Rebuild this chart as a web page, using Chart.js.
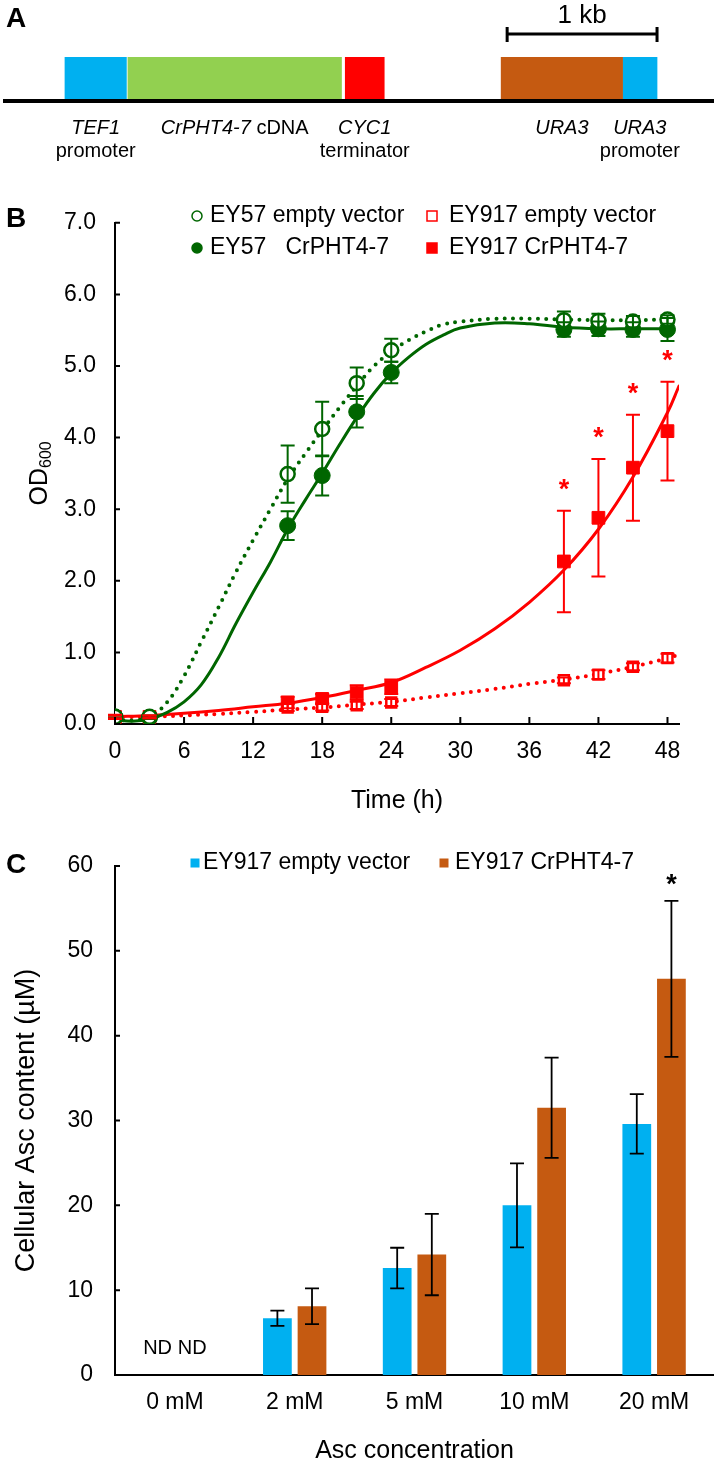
<!DOCTYPE html>
<html>
<head>
<meta charset="utf-8">
<script src="https://cdn.jsdelivr.net/npm/chart.js"></script>
<style>
  html, body { margin: 0; padding: 0; background: #fff; }
  body { width: 714px; height: 1468px; position: relative; overflow: hidden; font-family: "Liberation Sans", Arial, sans-serif; }
  canvas { position: absolute; left: 0; }
  .tag { position: absolute; left: 6px; font-weight: bold; font-size: 28px; line-height: 32px; }
</style>
</head>
<body>
<canvas id="geneMap" width="714" height="175" style="top:0"></canvas>
<canvas id="growth" width="714" height="640" style="top:190px"></canvas>
<canvas id="ascBars" width="714" height="638" style="top:830px"></canvas>
<div class="tag" style="top:2px">A</div>
<div class="tag" style="top:202px">B</div>
<div class="tag" style="top:848px">C</div>
<script>
const fam = '"Liberation Sans", Arial, sans-serif'
Chart.defaults.font.family = fam
Chart.defaults.color = "#000"

// ---- panel A: construct map (bp) ----
const mapParts = ["TEF1 promoter", "CrPHT4-7 cDNA", "CYC1 terminator", "URA3", "URA3 promoter"]
const mapStart = [400, 820, 2270, 3310, 4120]
const mapEnd = [810, 2245, 2530, 4120, 4350]
const mapColors = ["#00B0F0", "#92D050", "#FF0000", "#C55A11", "#00B0F0"]
const mapLine1 = [["TEF1", ""], ["CrPHT4-7", " cDNA"], ["CYC1", ""], ["URA3", ""], ["URA3", ""]]
const mapLine2 = ["promoter", "", "terminator", "", "promoter"]
const mapLength = 4730
const scaleBarBp = [3350, 4350]
const scaleBarLabel = "1 kb"

// ---- panel B: growth (OD600) ----
const timeB = [0, 3, 15, 18, 21, 24, 39, 42, 45, 48]
const ey57Empty = [0.10, 0.10, 3.49, 4.12, 4.76, 5.22, 5.64, 5.63, 5.62, 5.65]
const ey57EmptySd = [0.02, 0.02, 0.40, 0.38, 0.22, 0.16, 0.12, 0.10, 0.08, 0.06]
const ey57Pht = [0.10, 0.09, 2.77, 3.47, 4.36, 4.91, 5.51, 5.52, 5.51, 5.51]
const ey57PhtSd = [0.02, 0.02, 0.20, 0.28, 0.22, 0.15, 0.10, 0.10, 0.10, 0.16]
const ey917Empty = [0.10, 0.10, 0.23, 0.24, 0.26, 0.30, 0.61, 0.69, 0.80, 0.92]
const ey917EmptySd = [0.02, 0.02, 0.05, 0.05, 0.05, 0.05, 0.04, 0.06, 0.05, 0.06]
const ey917Pht = [0.10, 0.10, 0.30, 0.35, 0.44, 0.52, 2.27, 2.88, 3.58, 4.09]
const ey917PhtSd = [0.03, 0.02, 0.08, 0.07, 0.10, 0.10, 0.71, 0.82, 0.74, 0.69]
const sigTimesB = [39, 42, 45, 48]

// trend lines
const fitTimeGreen = [0, 1.5, 3, 4.5, 6, 7.5, 9, 10.5, 12, 13.5, 15, 16.5, 18, 19.5, 21, 22.5, 24, 25.5, 27, 28.5, 30, 33, 36, 39, 42, 45, 48]
const fit57Empty = [0.06, 0.05, 0.10, 0.30, 0.67, 1.15, 1.63, 2.12, 2.57, 3.00, 3.42, 3.77, 4.10, 4.42, 4.72, 5.00, 5.20, 5.36, 5.48, 5.58, 5.62, 5.66, 5.66, 5.65, 5.64, 5.64, 5.65]
const fit57Pht = [0.06, 0.04, 0.07, 0.16, 0.31, 0.55, 0.93, 1.40, 1.84, 2.26, 2.72, 3.12, 3.50, 3.90, 4.28, 4.62, 4.90, 5.12, 5.30, 5.43, 5.53, 5.60, 5.59, 5.54, 5.52, 5.52, 5.52]
const fitTimeRed = [0, 3, 6, 9, 12, 15, 18, 21, 24, 27, 30, 33, 36, 39, 42, 45, 48, 49]
const fit917Empty = [0.10, 0.10, 0.12, 0.14, 0.17, 0.20, 0.23, 0.27, 0.31, 0.37, 0.43, 0.49, 0.56, 0.62, 0.70, 0.80, 0.92, 0.97]
const fit917Pht = [0.10, 0.12, 0.15, 0.19, 0.24, 0.29, 0.37, 0.47, 0.58, 0.79, 1.03, 1.33, 1.70, 2.15, 2.72, 3.45, 4.35, 4.72]

// ---- panel C: cellular Asc ----
const ascCats = ["0 mM", "2 mM", "5 mM", "10 mM", "20 mM"]
const ascEmpty = [null, 6.7, 12.6, 20.0, 29.6]
const ascEmptySd = [null, 0.9, 2.4, 4.95, 3.5]
const ascPht = [null, 8.1, 14.2, 31.5, 46.7]
const ascPhtSd = [null, 2.1, 4.8, 5.9, 9.2]
const sigCatsC = ["20 mM"]

const green = "#006600"
const red = "#FF0000"
const blue = "#00B0F0"
const brown = "#C55A11"

function drawMixed(ctx, parts, cx, y) {
    ctx.font = "italic 20px " + fam
    const w1 = ctx.measureText(parts[0]).width
    ctx.font = "20px " + fam
    const w2 = ctx.measureText(parts[1]).width
    const sx = cx - (w1 + w2) / 2
    ctx.textAlign = "left"
    ctx.font = "italic 20px " + fam
    ctx.fillText(parts[0], sx, y)
    ctx.font = "20px " + fam
    ctx.fillText(parts[1], sx + w1, y)
}

const mapLabels = {
    id: "mapLabels",
    afterDraw(chart) {
        const ctx = chart.ctx
        const x = chart.scales.x
        ctx.save()
        ctx.fillStyle = "#000"
        ctx.strokeStyle = "#000"
        ctx.textBaseline = "middle"
        const x0 = x.getPixelForValue(scaleBarBp[0])
        const x1 = x.getPixelForValue(scaleBarBp[1])
        ctx.lineWidth = 3
        ctx.beginPath()
        ctx.moveTo(x0, 34); ctx.lineTo(x1, 34)
        ctx.moveTo(x0, 27); ctx.lineTo(x0, 42)
        ctx.moveTo(x1, 27); ctx.lineTo(x1, 42)
        ctx.stroke()
        ctx.font = "26px " + fam
        ctx.textAlign = "center"
        ctx.fillText(scaleBarLabel, (x0 + x1) / 2, 16)
        mapParts.forEach((p, i) => {
            const cx = x.getPixelForValue((mapStart[i] + mapEnd[i]) / 2)
            drawMixed(ctx, mapLine1[i], cx, 128)
            if (mapLine2[i]) {
                ctx.font = "20px " + fam
                ctx.textAlign = "center"
                ctx.fillText(mapLine2[i], cx, 151)
            }
        })
        ctx.restore()
    }
}

new Chart(document.getElementById("geneMap"), {
    type: "bar",
    data: {
        labels: ["construct"],
        datasets: mapParts.map((name, i) => ({
            label: name,
            data: [[mapStart[i], mapEnd[i]]],
            backgroundColor: mapColors[i],
            borderWidth: 0,
            grouped: false,
            categoryPercentage: 1,
            barPercentage: 1
        }))
    },
    options: {
        indexAxis: "y",
        responsive: false,
        animation: false,
        devicePixelRatio: 1,
        layout: { padding: { left: 5, top: 57, right: 0, bottom: 0 } },
        plugins: { legend: { display: false }, tooltip: { enabled: false } },
        scales: {
            x: {
                type: "linear", min: 0, max: mapLength,
                grid: { display: false, drawTicks: false },
                ticks: { display: false },
                border: { display: true, color: "#000", width: 4, z: 1 },
                afterFit(s) { s.height = 175 - 101 }
            },
            y: { display: false }
        }
    },
    plugins: [mapLabels]
})

// error bars + significance + ND labels, shared by B and C
const errorBars = {
    id: "errorBars",
    afterDatasetsDraw(chart, args, opts) {
        const ctx = chart.ctx
        const y = chart.scales.y
        chart.data.datasets.forEach((ds, di) => {
            if (!ds.sd) return
            const meta = chart.getDatasetMeta(di)
            ctx.save()
            ctx.strokeStyle = ds.errColor
            ctx.fillStyle = ds.errColor
            ctx.lineWidth = opts.width
            ds.data.forEach((d, i) => {
                const el = meta.data[i]
                const v = (d !== null && typeof d === "object") ? d.y : d
                const px = el.x
                if (v === null || v === undefined) {
                    if (ds.ndText) {
                        ctx.font = "20px " + fam
                        ctx.textAlign = "center"
                        ctx.textBaseline = "middle"
                        ctx.fillText(ds.ndText, px, y.getPixelForValue(0) - 27)
                    }
                    return
                }
                const s = ds.sd[i]
                const top = y.getPixelForValue(v + s)
                const bot = y.getPixelForValue(v - s)
                ctx.beginPath()
                ctx.moveTo(px, top); ctx.lineTo(px, bot)
                ctx.moveTo(px - opts.cap, top); ctx.lineTo(px + opts.cap, top)
                ctx.moveTo(px - opts.cap, bot); ctx.lineTo(px + opts.cap, bot)
                ctx.stroke()
                if (ds.sig && ds.sig[i]) {
                    ctx.font = "bold 27px " + fam
                    ctx.textAlign = "center"
                    ctx.textBaseline = "alphabetic"
                    ctx.fillText("*", px, top - opts.starGap)
                }
            })
            ctx.restore()
        })
    }
}

const innerTicks = {
    id: "innerTicks",
    afterDraw(chart, args, opts) {
        const ctx = chart.ctx
        const a = chart.chartArea
        ctx.save()
        ctx.strokeStyle = "#000"
        ctx.lineWidth = 2
        ctx.beginPath()
        if (opts.y) chart.scales.y.ticks.forEach(t => {
            const p = chart.scales.y.getPixelForValue(t.value)
            ctx.moveTo(a.left, p); ctx.lineTo(a.left + opts.y, p)
        })
        if (opts.x) chart.scales.x.ticks.forEach(t => {
            const p = chart.scales.x.getPixelForValue(t.value)
            ctx.moveTo(p, a.bottom); ctx.lineTo(p, a.bottom - opts.x)
        })
        ctx.stroke()
        ctx.restore()
    }
}

function marker(ctx, style, filled, color, x, y, r) {
    ctx.save()
    ctx.strokeStyle = color
    ctx.fillStyle = filled ? color : "#fff"
    ctx.lineWidth = 1.5
    ctx.beginPath()
    if (style === "circle") ctx.arc(x, y, r, 0, Math.PI * 2)
    else ctx.rect(x - r, y - r, r * 2, r * 2)
    ctx.fill()
    ctx.stroke()
    ctx.restore()
}

// legend positions: [marker x, text x, y] in canvas pixels
const growthLegend = {
    id: "growthLegend",
    afterDraw(chart) {
        const ctx = chart.ctx
        const slots = [[197, 210, 26], [197, 210, 58], [432, 449, 26], [432, 449, 58]]
        chart.data.datasets.filter(d => d.inLegend).forEach((ds, k) => {
            const [mx, tx, ty] = slots[k]
            marker(ctx, ds.pointStyle, ds.pointBackgroundColor !== "#fff", ds.pointBorderColor, mx, ty, 5)
            ctx.save()
            ctx.fillStyle = "#000"
            ctx.font = "23px " + fam
            ctx.textAlign = "left"
            ctx.textBaseline = "middle"
            ctx.fillText(ds.label, tx, ty)
            ctx.restore()
        })
        // OD600 axis title with subscript
        ctx.save()
        ctx.translate(40, (chart.chartArea.top + chart.chartArea.bottom) / 2)
        ctx.rotate(-Math.PI / 2)
        ctx.fillStyle = "#000"
        ctx.textBaseline = "middle"
        ctx.font = "25px " + fam
        const w1 = ctx.measureText("OD").width
        ctx.font = "16px " + fam
        const w2 = ctx.measureText("600").width
        ctx.textAlign = "left"
        ctx.font = "25px " + fam
        ctx.fillText("OD", -(w1 + w2) / 2, 0)
        ctx.font = "16px " + fam
        ctx.fillText("600", -(w1 + w2) / 2 + w1, 7)
        ctx.restore()
    }
}

const pts = (xs, ys) => xs.map((t, i) => ({ x: t, y: ys[i] }))
const sigB = timeB.map(t => sigTimesB.includes(t))

function markerSet(label, ys, sd, style, filled, color, r, sig) {
    return {
        label: label, data: pts(timeB, ys), sd: sd, sig: sig, errColor: color,
        inLegend: true, showLine: false, order: 0,
        pointStyle: style, pointRadius: r, pointHoverRadius: r,
        pointBorderWidth: filled ? 1 : 2.5,
        pointBackgroundColor: filled ? color : "#fff",
        pointBorderColor: color
    }
}
function fitSet(xs, ys, color, dotted) {
    return {
        label: "fit", data: pts(xs, ys), order: 1, pointRadius: 0,
        borderColor: color, borderWidth: dotted ? 4 : 3,
        borderDash: dotted ? [0, 8.3] : [], borderCapStyle: "round",
        tension: 0.4, fill: false
    }
}

new Chart(document.getElementById("growth"), {
    type: "line",
    data: {
        datasets: [
            markerSet("EY57 empty vector", ey57Empty, ey57EmptySd, "circle", false, green, 7),
            markerSet("EY57   CrPHT4-7", ey57Pht, ey57PhtSd, "circle", true, green, 8),
            markerSet("EY917 empty vector", ey917Empty, ey917EmptySd, "rect", false, red, 7),
            markerSet("EY917 CrPHT4-7", ey917Pht, ey917PhtSd, "rect", true, red, 9, sigB),
            fitSet(fitTimeGreen, fit57Empty, green, true),
            fitSet(fitTimeGreen, fit57Pht, green, false),
            fitSet(fitTimeRed, fit917Empty, red, true),
            fitSet(fitTimeRed, fit917Pht, red, false)
        ]
    },
    options: {
        responsive: false,
        animation: false,
        devicePixelRatio: 1,
        layout: { padding: { left: 0, top: 27, right: 35, bottom: 0 } },
        plugins: {
            legend: { display: false }, tooltip: { enabled: false },
            errorBars: { width: 2, cap: 7, starGap: 13 },
            innerTicks: { x: 7, y: 5 }
        },
        scales: {
            x: {
                type: "linear", min: 0, max: 49,
                grid: { display: false, drawTicks: false },
                border: { display: true, color: "#000", width: 2 },
                ticks: { stepSize: 6, includeBounds: false, padding: 14, maxRotation: 0, font: { size: 23 } },
                title: { display: true, text: "Time (h)", font: { size: 25 }, padding: { top: 0, bottom: 14 } },
                afterFit(s) { s.height = 640 - 534 }
            },
            y: {
                min: 0, max: 7,
                grid: { display: false, drawTicks: false },
                border: { display: true, color: "#000", width: 2 },
                ticks: { stepSize: 1, padding: 19, font: { size: 23 }, callback: v => v.toFixed(1) },
                afterFit(s) { s.width = 115 }
            }
        }
    },
    plugins: [errorBars, innerTicks, growthLegend]
})

const barLegend = {
    id: "barLegend",
    afterDraw(chart) {
        const ctx = chart.ctx
        const slots = [[195, 203, 33], [444, 455, 33]]
        chart.data.datasets.forEach((ds, k) => {
            const [mx, tx, ty] = slots[k]
            ctx.save()
            ctx.fillStyle = ds.backgroundColor
            ctx.fillRect(mx - 4.5, ty - 4.5, 9, 9)
            ctx.fillStyle = "#000"
            ctx.font = "23px " + fam
            ctx.textAlign = "left"
            ctx.textBaseline = "middle"
            ctx.fillText(ds.label, tx, ty)
            ctx.restore()
        })
    }
}

new Chart(document.getElementById("ascBars"), {
    type: "bar",
    data: {
        labels: ascCats,
        datasets: [
            { label: "EY917 empty vector", data: ascEmpty, sd: ascEmptySd, ndText: "ND", errColor: "#000", backgroundColor: blue, borderWidth: 0 },
            { label: "EY917 CrPHT4-7", data: ascPht, sd: ascPhtSd, ndText: "ND", errColor: "#000", backgroundColor: brown, borderWidth: 0,
              sig: ascCats.map(c => sigCatsC.includes(c)) }
        ]
    },
    options: {
        responsive: false,
        animation: false,
        devicePixelRatio: 1,
        categoryPercentage: 0.578,
        barPercentage: 0.83,
        layout: { padding: { left: 0, top: 36, right: 0, bottom: 0 } },
        plugins: {
            legend: { display: false }, tooltip: { enabled: false },
            errorBars: { width: 1.8, cap: 7, starGap: 8 },
            innerTicks: { y: 5 }
        },
        scales: {
            x: {
                grid: { display: false, drawTicks: false },
                border: { display: true, color: "#000", width: 2 },
                ticks: { padding: 14, font: { size: 23 } },
                title: { display: true, text: "Asc concentration", font: { size: 25 }, padding: { top: 0, bottom: 2 } },
                afterFit(s) { s.height = 638 - 545 }
            },
            y: {
                min: 0, max: 60,
                grid: { display: false, drawTicks: false },
                border: { display: true, color: "#000", width: 2 },
                ticks: { stepSize: 10, padding: 22, font: { size: 23 } },
                title: { display: true, text: "Cellular Asc content (µM)", font: { size: 27 }, padding: { top: 10, bottom: 0 } },
                afterFit(s) { s.width = 115 }
            }
        }
    },
    plugins: [errorBars, innerTicks, barLegend]
})
</script>
</body>
</html>
